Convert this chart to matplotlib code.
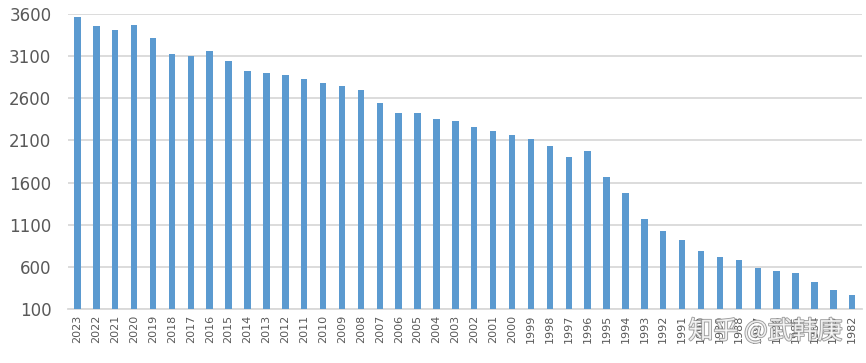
import matplotlib
matplotlib.use('Agg')
import matplotlib.pyplot as plt
import matplotlib.patheffects as pe

years = [str(y) for y in range(2023, 1981, -1)]
values = [3560, 3460, 3410, 3470, 3310, 3120, 3100, 3160, 3040, 2920,
          2900, 2880, 2830, 2780, 2740, 2700, 2540, 2420, 2430, 2360,
          2330, 2260, 2210, 2170, 2120, 2030, 1900, 1970, 1670, 1480,
          1170, 1020, 920, 790, 720, 680, 590, 550, 530, 420,
          330, 270]
yticks = [100, 600, 1100, 1600, 2100, 2600, 3100, 3600]
watermark = '知乎 @武韩庚'

fig = plt.figure(figsize=(8.66, 3.63), dpi=100)
ax = fig.add_axes([0.0785, 0.1488, 0.9165, 0.8126])

x = range(len(years))
ax.bar(x, values, width=0.34, color='#5B9AD0', zorder=3)

ax.set_ylim(100, 3600)
ax.set_xlim(-0.5, len(years) - 0.5)
ax.set_yticks(yticks)
ax.set_yticklabels([str(v) for v in yticks], fontsize=12, color='#595959')
ax.set_xticks(list(x))
ax.set_xticklabels(years, rotation=90, fontsize=8, color='#595959')
ax.tick_params(axis='both', length=0)
ax.tick_params(axis='y', pad=12)
ax.tick_params(axis='x', pad=4)

ax.grid(axis='y', color='#D9D9D9', linewidth=1.3, zorder=0)
for s in ['top', 'right', 'left']:
    ax.spines[s].set_visible(False)
ax.spines['bottom'].set_color('#D9D9D9')
ax.spines['bottom'].set_linewidth(1.3)

# watermark, white fill with grey outline
fig.text(0.884, 0.087, watermark, fontsize=18, color='white', alpha=0.85,
         family=['Noto Sans CJK SC', 'DejaVu Sans'], ha='center', va='center',
         path_effects=[pe.withStroke(linewidth=1.3, foreground='#8c8c8c')])

fig.savefig('out.png', dpi=100)
